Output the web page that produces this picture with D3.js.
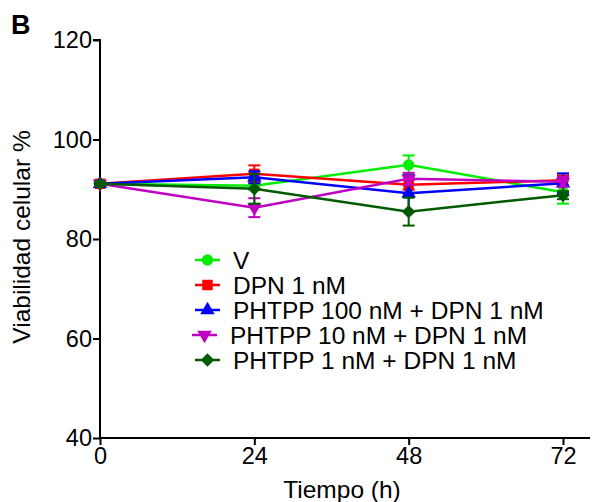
<!DOCTYPE html>
<html><head><meta charset="utf-8">
<script src="https://cdn.jsdelivr.net/npm/d3@7"></script>
<style>body{margin:0;background:#fff}svg{display:block}text{font-family:"Liberation Sans",Arial,sans-serif}</style>
</head><body><div id="chart"></div>
<script>
const times = [0, 24, 48, 72];
const xTicks = [0, 24, 48, 72];
const yTicks = [40, 60, 80, 100, 120];
const seriesNames = ["V", "DPN 1 nM", "PHTPP 100 nM + DPN 1 nM", "PHTPP 10 nM + DPN 1 nM", "PHTPP 1 nM + DPN 1 nM"];
const seriesColors = ["#00ee00", "#ff0000", "#0000ff", "#c000c0", "#005a00"];
const seriesSymbols = ["circle", "square", "triangle", "triangleDown", "diamond"];
const vMean = [91.1, 90.7, 94.9, 89.4];
const vErr = [0.4, 0.8, 1.9, 2.3];
const dpnMean = [91.1, 93.1, 90.9, 91.8];
const dpnErr = [0.4, 1.7, 1.0, 1.0];
const ph100Mean = [91.1, 92.4, 89.2, 91.2];
const ph100Err = [0.4, 1.2, 3.6, 2.0];
const ph10Mean = [91.1, 86.3, 92.1, 91.5];
const ph10Err = [0.4, 1.9, 1.2, 1.0];
const ph1Mean = [91.1, 90.1, 85.5, 88.8];
const ph1Err = [0.4, 3.0, 2.8, 0.8];
const means = [vMean, dpnMean, ph100Mean, ph10Mean, ph1Mean];
const errs = [vErr, dpnErr, ph100Err, ph10Err, ph1Err];

const W = 592, H = 502;
const svg = d3.select("#chart").append("svg").attr("width", W).attr("height", H);
const x = d3.scaleLinear().domain([0, 72]).range([100, 563]);
const y = d3.scaleLinear().domain([40, 120]).range([438, 40]);

// axes
const xAxis = svg.append("g").attr("transform", "translate(0,438)")
  .call(d3.axisBottom(x).tickValues(xTicks).tickSize(7).tickPadding(2).tickFormat(d3.format("d")));
xAxis.select(".domain").attr("d", "M100,0H590");
const yAxis = svg.append("g").attr("transform", "translate(100,0)")
  .call(d3.axisLeft(y).tickValues(yTicks).tickSize(7).tickPadding(1).tickFormat(d3.format("d")));
yAxis.select(".domain").attr("d", "M-7,40H0V438");
svg.selectAll(".domain, .tick line").attr("stroke", "#000").attr("stroke-width", 2);
svg.selectAll(".tick text").attr("font-size", 23.5).attr("fill", "#000")
  .attr("font-family", '"Liberation Sans",Arial,sans-serif');

svg.append("text").attr("x", 342).attr("y", 498).attr("text-anchor", "middle")
  .attr("font-size", 24.5).text("Tiempo (h)");
svg.append("text").attr("transform", "translate(30,237) rotate(-90)").attr("text-anchor", "middle")
  .attr("font-size", 24.5).text("Viabilidad celular %");
svg.append("text").attr("x", 11).attr("y", 34).attr("font-size", 27).attr("font-weight", "bold").text("B");

function sym(s) {
  const m = {circle: d3.symbolCircle, square: d3.symbolSquare, triangle: d3.symbolTriangle,
    triangleDown: d3.symbolTriangle, diamond: d3.symbolSquare};
  const size = {circle: 100, square: 110, triangle: 90, triangleDown: 90, diamond: 90};
  return d3.symbol(m[s], size[s])();
}
function rot(s) { return s === "triangleDown" ? " rotate(180)" : s === "diamond" ? " rotate(45)" : ""; }

const line = d3.line().x((d, i) => x(times[i])).y(d => y(d));
means.forEach((vals, k) => {
  const g = svg.append("g");
  const c = seriesColors[k];
  g.append("path").attr("d", line(vals)).attr("fill", "none").attr("stroke", c).attr("stroke-width", 2.5);
  vals.forEach((v, i) => {
    const cx = x(times[i]), e = errs[k][i];
    const y1 = y(v + e), y2 = y(v - e);
    g.append("line").attr("x1", cx).attr("x2", cx).attr("y1", y1).attr("y2", y2).attr("stroke", c).attr("stroke-width", 2);
    [y1, y2].forEach(yy => g.append("line").attr("x1", cx - 6).attr("x2", cx + 6).attr("y1", yy).attr("y2", yy)
      .attr("stroke", c).attr("stroke-width", 2));
    g.append("path").attr("d", sym(seriesSymbols[k])).attr("fill", c)
      .attr("transform", `translate(${cx},${y(v)})` + rot(seriesSymbols[k]));
  });
});

// legend
const legY = [260, 285, 310, 335, 360];
const legDx = [0, 0, 0, -3, 0];
seriesNames.forEach((n, k) => {
  const g = svg.append("g").attr("transform", `translate(${legDx[k]},${legY[k]})`);
  const c = seriesColors[k];
  g.append("line").attr("x1", 195).attr("x2", 220).attr("y1", 0).attr("y2", 0).attr("stroke", c).attr("stroke-width", 2.5);
  g.append("path").attr("d", sym(seriesSymbols[k])).attr("fill", c)
    .attr("transform", `translate(207.5,0)` + rot(seriesSymbols[k]));
  g.append("text").attr("x", 233).attr("y", 8.5).attr("font-size", 24.5).text(n);
});
</script></body></html>
